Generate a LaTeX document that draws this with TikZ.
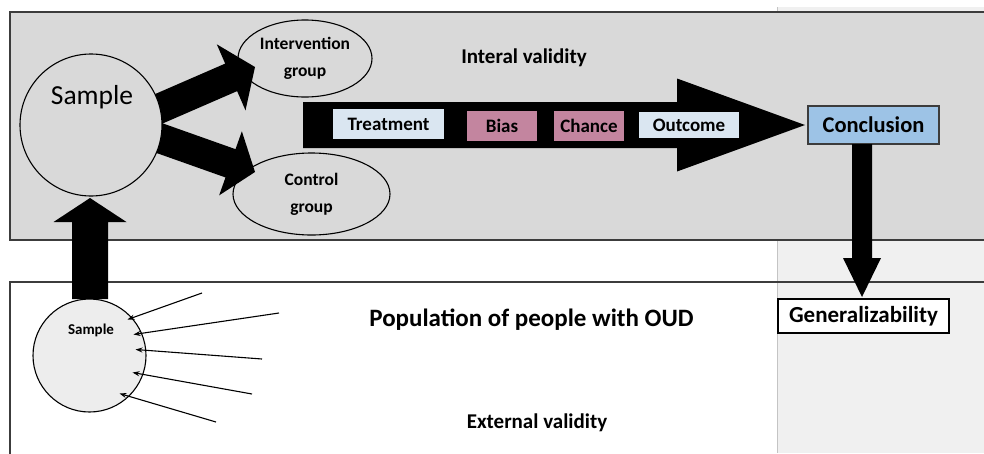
\documentclass[tikz,border=0pt]{standalone}
\usepackage{fontspec}
\setmainfont{Carlito}
\usetikzlibrary{shapes.geometric,calc,arrows.meta}

\definecolor{panelgray}{HTML}{D9D9D9}
\definecolor{stripgray}{HTML}{F0F0F0}
\definecolor{framegray}{HTML}{3C3C3C}
\definecolor{stripline}{HTML}{C4C4C4}
\definecolor{paleblue}{HTML}{DAE6F1}
\definecolor{rosebox}{HTML}{C3859F}
\definecolor{midblue}{HTML}{9DC3E6}
\definecolor{samplefill}{HTML}{EDEDED}

\tikzset{
  % filled block arrow: half shaft width, half head width, head length
  blockarrow/.style n args={3}{
    fill=black,
    to path={
      ($(\tikztostart)!#1!90:(\tikztotarget)$)
      -- ($(\tikztotarget)!#3!(\tikztostart)!#1!90:(\tikztotarget)$)
      -- ($(\tikztotarget)!#3!(\tikztostart)!#2!90:(\tikztotarget)$)
      -- (\tikztotarget)
      -- ($(\tikztotarget)!#3!(\tikztostart)!#2!-90:(\tikztotarget)$)
      -- ($(\tikztotarget)!#3!(\tikztostart)!#1!-90:(\tikztotarget)$)
      -- ($(\tikztostart)!#1!-90:(\tikztotarget)$)
      -- cycle
    }},
  groupell/.style={ellipse, draw=black, line width=1.1pt, fill=panelgray,
    inner sep=0pt, align=center,
    font=\bfseries\fontsize{17.5}{27}\selectfont},
  stagebox/.style={rectangle, inner sep=0pt, minimum height=30pt,
    font=\bfseries\fontsize{19}{20}\selectfont},
  thinarrow/.style={line width=1.1pt, -{Stealth[length=7pt,width=5pt]}},
  heading/.style={font=\bfseries\fontsize{#1}{#1}\selectfont},
}

\begin{document}
\begin{tikzpicture}[x=1pt, y=-1pt]
\useasboundingbox (0,0) rectangle (984,453);

% right-hand strip behind both panels
\fill[stripgray] (777,7) rectangle (984,453);
\draw[stripline, line width=0.8pt] (777,7) -- (777,453);

% internal-validity panel
\draw[framegray, line width=1.6pt, fill=panelgray] (986,12) -- (10,12) -- (10,240) -- (986,240);

% external-validity panel outline
\draw[framegray, line width=1.6pt] (10,455) -- (10,282) -- (986,282);

% groups
\node[groupell, minimum width=134pt, minimum height=77pt] (iv) at (305,58.5) {Intervention\\group};
\node[groupell, minimum width=157pt, minimum height=82pt] (cg) at (311.5,194) {Control\\group};

% sample circles
\node[circle, inner sep=0pt, minimum size=113pt] (ss) at (89.5,355.5) {};
\node[circle, inner sep=0pt, minimum size=142pt] (bs) at (91,125) {};

% block arrows
\coordinate (ivstart) at (110,130);
\coordinate (ivtip) at (255,67);
\coordinate (cgstart) at (114,122);
\coordinate (cgtip) at (255,172);
\coordinate (upstart) at (90,299);
\coordinate (uptip) at (90,198);
\path[blockarrow={15pt}{36pt}{26pt}] (ivstart) to (ivtip);
\path[blockarrow={15pt}{34pt}{26pt}] (cgstart) to (cgtip);
\path[blockarrow={18pt}{36.5pt}{24pt}] (upstart) to (uptip);

% redraw circles over the arrow roots
\node[circle, draw=black, line width=1.1pt, fill=panelgray, inner sep=0pt, minimum size=142pt] (bsc) at (bs) {};
\node[font=\fontsize{27.5}{27.5}\selectfont] (bslab) at (92,97) {Sample};
\node[circle, draw=black, line width=1.1pt, fill=samplefill, inner sep=0pt, minimum size=113pt] (ssc) at (ss) {};
\node[heading=15] (sslab) at (91,330) {Sample};

% main process arrow
\node[rectangle, draw=framegray, line width=1.6pt, fill=midblue, minimum width=131pt, minimum height=38pt, inner sep=0pt, heading=22.5] (conc) at (873.5,125) {Conclusion};
\coordinate (mainstart) at (303,125);
\coordinate (maintip) at (805,125);
\path[blockarrow={23pt}{46.5pt}{128pt}] (mainstart) to (maintip);

\node[stagebox, fill=paleblue, minimum width=111pt] (treat) at (388.5,124) {Treatment};
\node[stagebox, fill=rosebox, minimum width=70pt] (bias) at (502,126) {Bias};
\node[stagebox, fill=rosebox, minimum width=70pt] (chance) at (589,126) {Chance};
\node[stagebox, fill=paleblue, minimum width=100pt, minimum height=26pt] (outc) at (689,125) {Outcome};

% generalizability
\node[rectangle, draw=black, line width=2pt, fill=white, minimum width=171pt, minimum height=34pt, inner sep=0pt, heading=23] (gen) at (863.5,316) {Generalizability};
\coordinate (genstart) at (862,144);
\coordinate (gentip) at (862,297);
\path[blockarrow={10pt}{19pt}{39pt}] (genstart) to (gentip);

% people drawn into the sample
\coordinate (p1) at (202,293);
\coordinate (p2) at (279,313);
\coordinate (p3) at (262,359);
\coordinate (p4) at (252,394);
\coordinate (p5) at (216,422);
\coordinate (q1) at ($(ss)+(38,-36)$);
\coordinate (q2) at ($(ss)+(44,-21)$);
\coordinate (q3) at ($(ss)+(46,-6)$);
\coordinate (q4) at ($(ss)+(43,17)$);
\coordinate (q5) at ($(ss)+(30,38)$);
\foreach \i in {1,...,5} \draw[thinarrow] (p\i) -- (q\i);

% headings
\node[heading=21] (intval) at (524,58) {Interal validity};
\node[heading=25] (pop) at (531.5,320) {Population of people with OUD};
\node[heading=21] (extval) at (537,423) {External validity};
\end{tikzpicture}
\end{document}
